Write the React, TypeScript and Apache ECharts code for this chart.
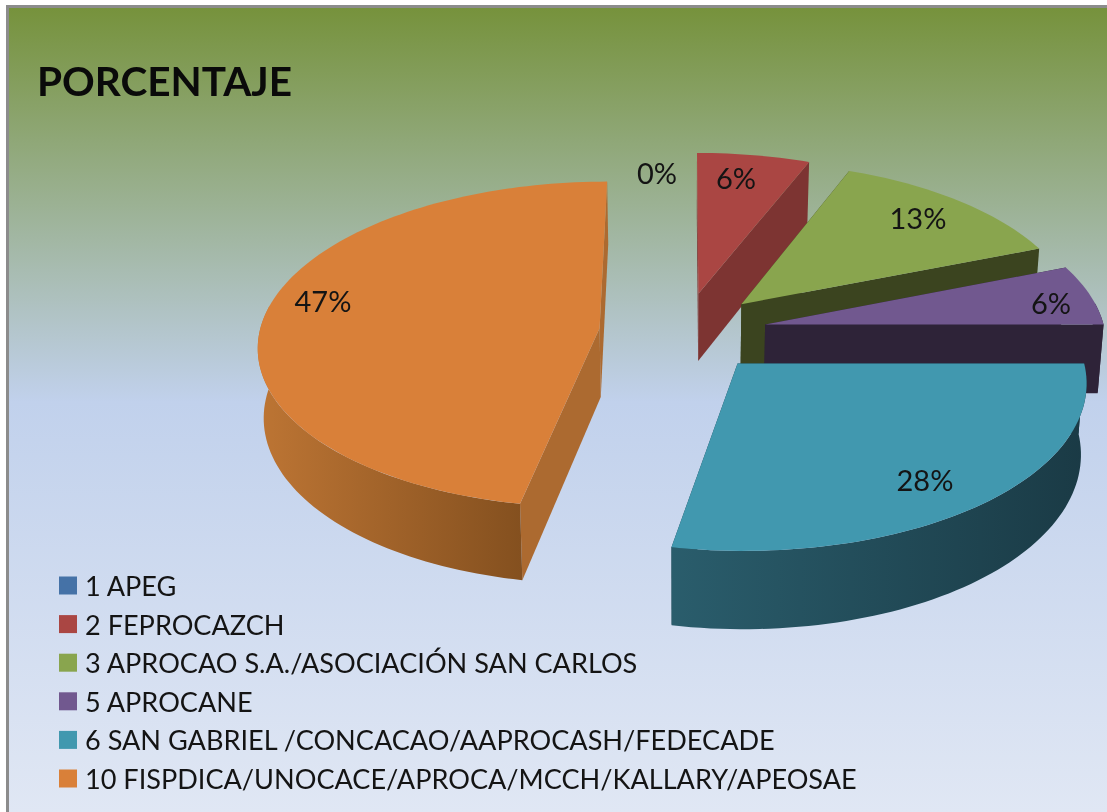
import React, { useEffect, useRef } from "react";
import * as echarts from "echarts";

const titleText = "PORCENTAJE";
const categories = [
  "1 APEG",
  "2 FEPROCAZCH",
  "3 APROCAO S.A./ASOCIACIÓN SAN CARLOS",
  "5 APROCANE",
  "6 SAN GABRIEL /CONCACAO/AAPROCASH/FEDECADE",
  "10 FISPDICA/UNOCACE/APROCA/MCCH/KALLARY/APEOSAE",
];
const values = [0, 6, 13, 6, 28, 47];

const topColors = ["#4572a7", "#aa4643", "#89a54e", "#71588f", "#4198af", "#d98039"];
const sideColors = ["#2c4a6e", "#7d3432", "#3b441f", "#2e2338", "#1b3d48", "#ac6a30"];
const rimStops = [
  ["#2c4a6e", "#2c4a6e"],
  ["#7d3432", "#7d3432"],
  ["#3b441f", "#3b441f"],
  ["#2e2338", "#2e2338"],
  ["#2a5d6c", "#1a3a45"],
  ["#bd7534", "#84501f"],
];
// screen anchors of the percentage labels
const labelAnchors = [
  [657, 172],
  [736, 177],
  [918, 217],
  [1051, 302],
  [925, 479],
  [323, 300],
];

// projection of the tilted disc
const CX = 683;
const CY = 332;
const RX = 340;
const RY = 162;
const K = 0.1;
const EXPLODE = 0.247;
const DEPTH = 69;
const BOTTOM_X = 0.986;
const LABEL_FONT = "29px Lato";

const total = values.reduce((a, b) => a + b, 0);
const rad = (d: number) => (d * Math.PI) / 180;

function project(u: number, v: number, low: boolean): number[] {
  const s = 1 / (1 + K * v);
  let x = RX * u * s;
  let y = CY - RY * v * s;
  if (low) {
    x *= BOTTOM_X;
    y += DEPTH * s;
  }
  return [CX + x, y];
}

function renderSlice(index: number, api: any) {
  const value = api.value(0);
  let before = 0;
  for (let i = 0; i < index; i++) before += values[i];
  const a0 = (before / total) * 360;
  const a1 = ((before + value) / total) * 360;
  const mid = rad((a0 + a1) / 2);
  const ou = EXPLODE * Math.sin(mid);
  const ov = EXPLODE * Math.cos(mid);
  const rimPoint = (deg: number, low: boolean) =>
    project(ou + Math.sin(rad(deg)), ov + Math.cos(rad(deg)), low);
  const apex = (low: boolean) => project(ou, ov, low);
  const arc = (from: number, to: number, low: boolean) => {
    const out: number[][] = [];
    const n = Math.max(1, Math.ceil(Math.abs(to - from) / 1.5));
    for (let i = 0; i <= n; i++) out.push(rimPoint(from + ((to - from) * i) / n, low));
    return out;
  };
  const children: any[] = [];
  if (value > 0) {
    const face = (deg: number) => ({
      type: "polygon",
      shape: { points: [apex(false), rimPoint(deg, false), rimPoint(deg, true), apex(true)] },
      style: { fill: sideColors[index] },
    });
    children.push(face(a0), face(a1));
    // the visible wall runs slightly past 90 and 270 degrees because of the perspective
    const r0 = Math.max(a0, 82);
    const r1 = Math.min(a1, 278);
    if (r1 > r0) {
      children.push({
        type: "polygon",
        shape: { points: [...arc(r0, r1, false), ...arc(r1, r0, true)] },
        style: {
          fill: new echarts.graphic.LinearGradient(0, 0, 1, 0, [
            { offset: 0, color: rimStops[index][0] },
            { offset: 1, color: rimStops[index][1] },
          ]),
        },
      });
    }
    children.push({
      type: "polygon",
      shape: { points: [apex(false), ...arc(a0, a1, false)] },
      style: { fill: topColors[index] },
    });
  }
  children.push({
    type: "text",
    style: {
      text: `${value}%`,
      x: labelAnchors[index][0],
      y: labelAnchors[index][1],
      align: "center",
      verticalAlign: "middle",
      font: LABEL_FONT,
      fill: "#141414",
    },
  });
  return { type: "group", children };
}

export default function App() {
  const ref = useRef<HTMLDivElement>(null);
  useEffect(() => {
    const chart = echarts.init(ref.current!, undefined, { renderer: "svg" });
    chart.setOption({
      animation: false,
      title: {
        text: titleText,
        left: 37,
        top: 60,
        padding: 0,
        textStyle: { fontFamily: "Lato", fontWeight: "bold", fontSize: 40.5, color: "#0a0a0a" },
      },
      legend: {
        orient: "vertical",
        left: 59,
        top: 572,
        padding: 0,
        itemWidth: 18,
        itemHeight: 18,
        itemGap: 11.6,
        icon: "rect",
        data: categories,
        selectedMode: false,
        textStyle: {
          fontFamily: "Lato",
          fontSize: 27.1,
          color: "#141414",
          padding: [0, 0, 0, 3],
          height: 27,
          lineHeight: 27,
        },
      },
      graphic: {
        elements: [
          {
            type: "rect",
            z: -10,
            silent: true,
            shape: { x: 0, y: 0, width: 1107, height: 812 },
            style: { fill: "#ffffff" },
          },
          {
            type: "rect",
            z: -9,
            silent: true,
            shape: { x: 6, y: 5, width: 1101, height: 807 },
            style: { fill: "#8c8c8c" },
          },
          {
            type: "rect",
            z: -8,
            silent: true,
            shape: { x: 9, y: 8, width: 1098, height: 804 },
            style: {
              fill: new echarts.graphic.LinearGradient(0, 0, 0, 1, [
                { offset: 0, color: "#76923c" },
                { offset: 0.49, color: "#c1d1ec" },
                { offset: 1, color: "#e0e7f4" },
              ]),
            },
          },
        ],
      },
      series: categories.map((name, i) => ({
        type: "custom",
        name,
        coordinateSystem: "none",
        z: 2 + i,
        silent: true,
        itemStyle: { color: topColors[i] },
        data: [[values[i]]],
        renderItem: (_params: any, api: any) => renderSlice(i, api),
      })),
    });
    return () => chart.dispose();
  }, []);
  return (
    <div style={{ position: "fixed", left: 0, top: 0, width: 1107, height: 812 }}>
      <div ref={ref} style={{ width: 1107, height: 812 }} />
    </div>
  );
}
